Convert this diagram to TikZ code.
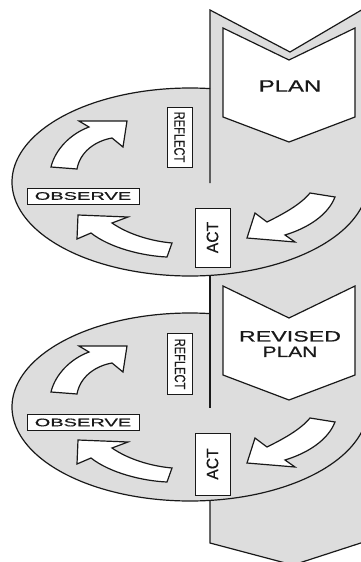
\documentclass[tikz,border=0pt]{standalone}
\usepackage{fontspec}
\setmainfont{Liberation Sans}[RawFeature={embolden=0.5}]
\usepackage{graphicx}
\definecolor{bandgray}{RGB}{221,221,221}
\definecolor{ink}{RGB}{25,25,25}
\tikzset{
  edge/.style={line width=1.2pt, draw=ink},
  blockarrow/.style={line width=1.2pt, draw=ink, fill=white, line join=miter},
  chev/.style={line width=1.2pt, draw=ink, fill=white, line join=miter},
  box/.style={draw=ink, line width=1pt, fill=white, inner sep=0pt, text=ink},
  label/.style={inner sep=0pt, text=ink, align=center}
}
\begin{document}
\begin{tikzpicture}[x=1pt,y=-1pt]
\useasboundingbox (0,0) rectangle (361,562);
\clip (0,0) rectangle (361,562);
% band fill
\fill[bandgray] (210,10) -- (290,52) -- (370,5) -- (370,540) -- (293,565) -- (210,543) -- cycle;
% ellipse fills
\foreach \dy in {0,225} {
  \fill[bandgray] (190,{182+\dy}) ellipse [x radius=178pt, y radius=94pt];
}
% band outline
\draw[edge] (370,5) -- (290,52) -- (210,10) -- (210,183);
\draw[edge] (210,275) -- (210,408);
\draw[edge] (210,500) -- (210,543) -- (293,565) -- (370,540);
% ellipse outlines and arrows
\foreach \dy in {0,225} {
  \draw[edge] plot[domain=-83.5:-350, samples=150, smooth] ({190+178*cos(\x)},{182+\dy+94*sin(\x)});
  % upper-left arrow
  \draw[blockarrow] (51,{167+\dy}) -- (77,{169+\dy}) .. controls (80,{152+\dy}) and (95,{141+\dy}) .. (112,{138+\dy})
     -- (123,{147+\dy}) -- (127,{121+\dy}) -- (79,{121+\dy}) -- (89,{127+\dy})
     .. controls (70,{134+\dy}) and (55,{150+\dy}) .. cycle;
  % lower-left arrow
  \draw[blockarrow] (78,{215+\dy}) -- (128,{217+\dy}) -- (112,{223+\dy})
     .. controls (128,{234+\dy}) and (150,{241+\dy}) .. (172,{243+\dy}) -- (167,{257+\dy})
     .. controls (143,{256+\dy}) and (110,{248+\dy}) .. (91,{233+\dy}) -- (77,{239+\dy}) -- cycle;
  % right arrow
  \draw[blockarrow] (310,{193+\dy}) -- (335,{197+\dy})
     .. controls (328,{215+\dy}) and (308,{228+\dy}) .. (285,{235+\dy})
     -- (295,{242+\dy}) -- (247,{238+\dy}) -- (255,{213+\dy}) -- (267,{222+\dy})
     .. controls (283,{214+\dy}) and (300,{205+\dy}) .. cycle;
}
% chevrons
\draw[chev] (223,28) -- (289,60) -- (355,28) -- (355,117) -- (289,142) -- (223,117) -- cycle;
\draw[chev] (223,286) -- (289,318) -- (355,286) -- (355,375) -- (289,400) -- (223,375) -- cycle;
\node[label, font=\fontsize{16.5}{16}\selectfont] (plan1) at (290,86) {\scalebox{1.45}[1]{PLAN}};
\node[label, font=\fontsize{15}{15.5}\selectfont] (revplan) at (290,344) {\scalebox{1.55}[1]{REVISED}\\\scalebox{1.4}[1]{PLAN}};
% boxes, first cycle
\node[box, minimum width=25pt, minimum height=60pt, font=\fontsize{15}{14}\selectfont] (reflect1) at (179.5,137)
  {\rotatebox{-90}{\scalebox{0.74}[1]{REFLECT}}};
\node[box, minimum width=112pt, minimum height=16pt, font=\fontsize{11}{10}\selectfont] (observe1) at (83,196)
  {\scalebox{1.82}[1]{OBSERVE}};
\node[box, minimum width=35pt, minimum height=59pt, font=\fontsize{16.5}{16}\selectfont] (act1) at (212.5,237.5)
  {\rotatebox{90}{\scalebox{0.95}[1]{ACT}}};
% boxes, second cycle
\node[box, minimum width=25pt, minimum height=61pt, font=\fontsize{15}{14}\selectfont] (reflect2) at (180,364)
  {\rotatebox{-90}{\scalebox{0.74}[1]{REFLECT}}};
\node[box, minimum width=112pt, minimum height=16pt, font=\fontsize{11}{10}\selectfont] (observe2) at (83,422.5)
  {\scalebox{1.82}[1]{OBSERVE}};
\node[box, minimum width=35pt, minimum height=62pt, font=\fontsize{16.5}{16}\selectfont] (act2) at (212.5,464)
  {\rotatebox{90}{\scalebox{0.95}[1]{ACT}}};
\end{tikzpicture}
\end{document}
